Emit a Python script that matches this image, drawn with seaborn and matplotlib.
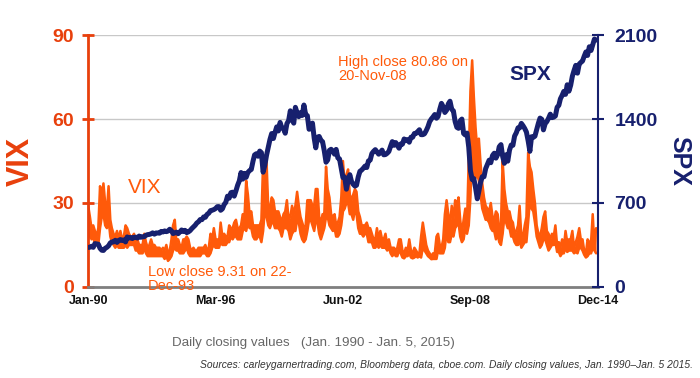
import numpy as np
import pandas as pd
import matplotlib
matplotlib.use("Agg")
import matplotlib.pyplot as plt
import matplotlib.dates as mdates
import seaborn as sns

# Monthly values, Jan 1990 - Dec 2014 (one row per year)
spx_close = [
    329, 331, 339, 330, 361, 358, 356, 322, 306, 304, 322, 330,
    343, 367, 375, 375, 389, 371, 387, 395, 387, 392, 375, 417,
    408, 412, 403, 414, 415, 408, 424, 414, 418, 419, 431, 436,
    438, 443, 451, 440, 450, 450, 448, 463, 458, 467, 461, 466,
    481, 467, 445, 450, 457, 444, 458, 475, 462, 472, 453, 459,
    470, 487, 500, 514, 533, 544, 562, 561, 584, 581, 605, 615,
    636, 640, 645, 654, 669, 670, 639, 651, 687, 705, 757, 740,
    786, 790, 757, 801, 848, 885, 954, 899, 947, 914, 955, 970,
    980, 1049, 1101, 1111, 1090, 1133, 1120, 957, 1017, 1098, 1163, 1229,
    1279, 1238, 1286, 1335, 1301, 1372, 1328, 1320, 1282, 1362, 1388, 1469,
    1394, 1366, 1498, 1452, 1420, 1454, 1430, 1517, 1436, 1429, 1315, 1320,
    1366, 1240, 1160, 1249, 1255, 1224, 1211, 1134, 1040, 1059, 1139, 1148,
    1130, 1107, 1147, 1076, 1067, 990, 912, 916, 815, 885, 936, 880,
    856, 841, 848, 917, 964, 975, 990, 1008, 996, 1051, 1058, 1112,
    1131, 1145, 1126, 1107, 1121, 1141, 1102, 1104, 1115, 1130, 1174, 1212,
    1181, 1204, 1181, 1157, 1192, 1191, 1234, 1220, 1229, 1207, 1249, 1248,
    1280, 1281, 1295, 1311, 1270, 1270, 1277, 1304, 1336, 1378, 1401, 1418,
    1438, 1407, 1421, 1482, 1531, 1503, 1455, 1474, 1527, 1549, 1481, 1468,
    1379, 1331, 1323, 1386, 1400, 1280, 1267, 1283, 1165, 969, 896, 903,
    826, 735, 798, 873, 919, 919, 987, 1021, 1057, 1036, 1096, 1115,
    1074, 1104, 1169, 1187, 1089, 1031, 1102, 1049, 1141, 1183, 1181, 1258,
    1286, 1327, 1326, 1364, 1345, 1321, 1292, 1219, 1131, 1253, 1247, 1258,
    1312, 1366, 1408, 1398, 1310, 1362, 1379, 1407, 1441, 1412, 1416, 1426,
    1498, 1515, 1569, 1598, 1631, 1606, 1686, 1633, 1682, 1757, 1806, 1848,
    1783, 1859, 1872, 1884, 1924, 1960, 1931, 2003, 1972, 2018, 2068, 2059,
]

vix_high = [
    29, 25, 21, 22, 20, 18, 21, 36, 32, 37, 30, 27,
    36, 24, 21, 19, 18, 20, 17, 20, 17, 18, 22, 21,
    19, 18, 18, 19, 16, 17, 15, 15, 15, 19, 16, 14,
    15, 17, 15, 15, 14, 14, 14, 13, 14, 13, 15, 12,
    13, 17, 22, 24, 16, 17, 15, 14, 17, 17, 18, 17,
    14, 13, 14, 13, 13, 14, 14, 14, 14, 15, 13, 14,
    19, 17, 21, 17, 17, 16, 23, 18, 19, 18, 18, 22,
    21, 21, 23, 24, 21, 21, 22, 26, 25, 38, 33, 26,
    27, 22, 22, 22, 22, 22, 24, 45, 44, 45, 28, 28,
    32, 31, 27, 27, 27, 25, 23, 26, 27, 31, 24, 25,
    29, 26, 29, 34, 29, 25, 23, 21, 22, 31, 31, 31,
    29, 29, 35, 35, 25, 23, 26, 26, 43, 35, 32, 26,
    25, 26, 22, 23, 25, 32, 45, 37, 40, 42, 33, 31,
    33, 35, 34, 27, 25, 22, 22, 22, 23, 21, 21, 19,
    17, 17, 21, 17, 20, 17, 17, 19, 15, 17, 14, 14,
    14, 13, 14, 17, 17, 13, 12, 14, 13, 17, 13, 12,
    14, 13, 12, 12, 18, 23, 19, 15, 13, 12, 11, 12,
    12, 18, 19, 15, 14, 17, 26, 31, 26, 22, 29, 24,
    31, 29, 32, 24, 19, 24, 28, 23, 46, 70, 81, 68,
    57, 49, 53, 44, 37, 32, 29, 28, 27, 30, 25, 24,
    27, 26, 20, 22, 45, 35, 30, 27, 27, 24, 23, 19,
    20, 22, 29, 18, 18, 22, 25, 48, 43, 41, 35, 30,
    22, 19, 18, 21, 25, 27, 20, 19, 17, 19, 18, 22,
    15, 16, 14, 17, 14, 20, 16, 17, 17, 20, 14, 16,
    18, 21, 17, 17, 13, 12, 17, 16, 16, 26, 14, 21,
]

vix_low = [
    17, 20, 17, 18, 15, 15, 15, 21, 25, 26, 22, 21,
    24, 18, 16, 15, 14, 15, 14, 14, 14, 14, 15, 14,
    15, 15, 15, 15, 13, 13, 12, 12, 12, 14, 12, 11,
    11, 11, 11, 11, 11, 11, 11, 11, 11, 10, 11, 9.3,
    10, 11, 13, 14, 13, 13, 12, 12, 12, 13, 14, 12,
    11, 11, 11, 11, 11, 11, 11, 12, 12, 12, 11, 11,
    12, 14, 15, 14, 14, 14, 16, 15, 15, 15, 16, 16,
    18, 17, 18, 18, 17, 17, 17, 20, 21, 20, 23, 21,
    21, 18, 17, 17, 18, 18, 16, 20, 28, 25, 22, 21,
    23, 23, 21, 21, 21, 20, 18, 21, 21, 21, 20, 17,
    19, 20, 20, 24, 23, 19, 17, 16, 17, 20, 24, 24,
    22, 20, 24, 23, 19, 17, 19, 21, 25, 25, 22, 21,
    20, 21, 18, 18, 19, 22, 27, 28, 30, 30, 26, 26,
    24, 28, 26, 21, 19, 19, 18, 19, 19, 16, 16, 16,
    14, 14, 15, 14, 15, 14, 14, 14, 13, 14, 12, 11,
    12, 11, 11, 13, 12, 10.5, 10.2, 11, 11, 12, 10.5, 10.2,
    10.5, 11, 10.5, 11, 10.5, 14, 13, 12, 11, 10.5, 9.9, 10,
    10, 10, 13, 12, 12, 12, 14, 20, 16, 16, 19, 18,
    21, 22, 23, 18, 16, 17, 21, 19, 22, 32, 50, 40,
    39, 40, 38, 33, 28, 26, 24, 24, 23, 21, 20, 20,
    17, 19, 16, 15, 19, 25, 23, 21, 21, 18, 18, 16,
    15, 15, 17, 14, 15, 16, 16, 23, 31, 28, 27, 23,
    18, 16, 14, 15, 17, 17, 15, 13, 14, 15, 15, 16,
    12.5, 12.5, 11, 12, 12, 14, 12.5, 13, 13, 13, 12, 12.5,
    12, 14, 14, 13, 11.5, 10.5, 11, 12, 12, 14, 13, 12,
]

tick_dates = ["1990-01-01", "1996-03-31", "2002-06-30", "2008-09-30", "2014-12-31"]
tick_labels = ["Jan-90", "Mar-96", "Jun-02", "Sep-08", "Dec-14"]
vix_ticks = [0, 30, 60, 90]
spx_ticks = [0, 700, 1400, 2100]

df = pd.DataFrame({
    "date": pd.date_range("1990-01-01", periods=len(spx_close), freq="MS"),
    "spx": spx_close,
    "vix_high": vix_high,
    "vix_low": vix_low,
})

orange = "#ff5a0a"
red_axis = "#e8400c"
navy = "#17206e"

sns.set_style("white")
plt.rcParams["font.family"] = ["Liberation Sans", "DejaVu Sans"]

fig = plt.figure(figsize=(7, 3.78), dpi=100)
ax = fig.add_axes([0.126, 0.241, 0.728, 0.666])

# VIX band (daily range approximated by monthly high/low)
ax.fill_between(df["date"], df["vix_low"], df["vix_high"], color=orange, lw=0)
sns.lineplot(data=df, x="date", y="vix_high", ax=ax, color=orange, lw=1.8)
sns.lineplot(data=df, x="date", y="vix_low", ax=ax, color=orange, lw=1.8)
ax.set_ylim(0, 90)
ax.set_xlim(pd.Timestamp("1990-01-01"), pd.Timestamp("2014-12-31"))

ax2 = ax.twinx()
sns.lineplot(data=df, x="date", y="spx", ax=ax2, color=navy, lw=3.6)
ax2.set_ylim(0, 2100)

# grid
for v in vix_ticks[1:]:
    ax.axhline(v, color="#c8c8c8", lw=1, zorder=0)

# spines
for s in ["top"]:
    ax.spines[s].set_visible(False)
    ax2.spines[s].set_visible(False)
ax.spines["left"].set_color(red_axis)
ax.spines["left"].set_linewidth(2)
ax2.spines["left"].set_visible(False)
ax.spines["right"].set_visible(False)
ax2.spines["right"].set_color(navy)
ax2.spines["right"].set_linewidth(1.5)
ax.spines["bottom"].set_color("#7f7f7f")
ax.spines["bottom"].set_linewidth(2)
ax2.spines["bottom"].set_visible(False)

ax.set_yticks(vix_ticks)
ax.set_yticklabels([str(v) for v in vix_ticks])
ax.tick_params(axis="y", colors=red_axis, direction="inout", length=8, width=2,
               labelsize=14, pad=6)
for t in ax.get_yticklabels():
    t.set_fontweight("bold")
ax2.set_yticks(spx_ticks)
ax2.set_yticklabels([str(v) for v in spx_ticks])
ax2.tick_params(axis="y", colors=navy, direction="inout", length=8, width=1.5,
                labelsize=14, pad=8)
for t in ax2.get_yticklabels():
    t.set_fontweight("bold")

ax.set_xticks(pd.to_datetime(tick_dates))
ax.set_xticklabels(tick_labels)
ax.tick_params(axis="x", colors="#333333", direction="in", length=6, width=1,
               labelsize=9, pad=6)
for t in ax.get_xticklabels():
    t.set_color("#111111")
    t.set_fontweight("bold")

ax.set_xlabel("")
ax.set_ylabel("VIX", color=red_axis, fontsize=22, fontweight="bold", labelpad=12)
ax2.set_ylabel("SPX", color=navy, fontsize=18, fontweight="bold", rotation=270,
               labelpad=24)

# inline labels
ax.text(pd.Timestamp("1991-12-15"), 35.5, "VIX", color=orange, fontsize=15,
        va="center", ha="left")
ax.text(pd.Timestamp("2010-09-01"), 76, "SPX", color=navy, fontsize=15,
        fontweight="bold", va="center", ha="left")
ax.text(pd.Timestamp("2002-04-01"), 83, "High close 80.86 on\n20-Nov-08",
        color=orange, fontsize=10.5, va="top", ha="left", linespacing=1.05)
ax.text(pd.Timestamp("1992-12-01"), 8, "Low close 9.31 on 22-\nDec-93",
        color=orange, fontsize=10.5, va="top", ha="left", linespacing=1.05,
        clip_on=False)

fig.text(172 / 700, 1 - 343 / 378, "Daily closing values   (Jan. 1990 - Jan. 5, 2015)",
         color="#666666", fontsize=9.6, va="center", ha="left")
fig.text(693 / 700, 1 - 365 / 378,
         "Sources: carleygarnertrading.com, Bloomberg data, cboe.com. Daily closing values, Jan. 1990\u2013Jan. 5 2015.",
         color="#333333", fontsize=7.4, style="italic", va="center", ha="right")

fig.savefig("out.png", dpi=100)
